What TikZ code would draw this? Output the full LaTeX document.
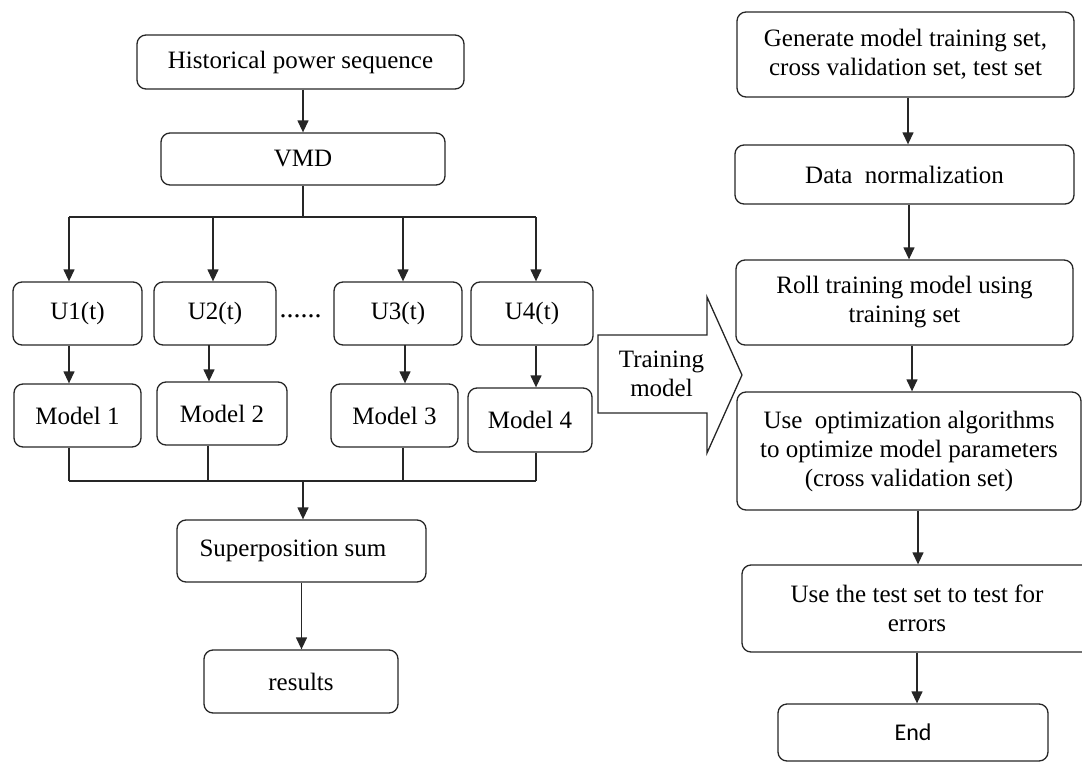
\documentclass[tikz,border=0pt]{standalone}
\usepackage{fontspec}
\setmainfont{Liberation Serif}
\newfontfamily\calfont{Carlito}
\usetikzlibrary{arrows.meta}
\begin{document}
\begin{tikzpicture}[x=1pt,y=-1pt,
  box/.style={draw=black!85, line width=1.3pt, rounded corners=9pt, inner sep=0pt,
    align=center, font=\fontsize{25}{29}\selectfont},
  arr/.style={draw=black!85, line width=1.3pt, -{Triangle[width=11pt,length=12pt]}},
  ln/.style={draw=black!85, line width=1.3pt},
  txt/.style={inner sep=0pt, align=center, font=\fontsize{25}{29}\selectfont}]
\useasboundingbox (0,0) rectangle (1082,763);
% left column
\node[box, minimum width=327pt, minimum height=54pt] (hist) at (300.5,62) {Historical power sequence};
\node[box, minimum width=284pt, minimum height=52pt] (vmd) at (303,159) {VMD};
\node[box, minimum width=129pt, minimum height=63pt] (u1) at (77.5,313.5) {U1(t)};
\node[box, minimum width=122pt, minimum height=63pt] (u2) at (215,313.5) {U2(t)};
\node[box, minimum width=128pt, minimum height=63pt] (u3) at (398,313.5) {U3(t)};
\node[box, minimum width=122pt, minimum height=63pt] (u4) at (532,313.5) {U4(t)};
\node[txt, anchor=base, font=\fontsize{28}{29}\selectfont] (dots) at (300.5,317) {......};
\node[box, minimum width=127pt, minimum height=63pt] (m1) at (77.5,415.5) {Model 1};
\node[box, minimum width=130pt, minimum height=63pt] (m2) at (222,413.5) {Model 2};
\node[box, minimum width=127pt, minimum height=63pt] (m3) at (394.5,415.5) {Model 3};
\node[box, minimum width=124pt, minimum height=64pt] (m4) at (530,420) {Model 4};
\node[box, minimum width=249pt, minimum height=62pt] (sup) at (301.5,551) {Superposition sum\hspace{17pt}};
\node[box, minimum width=194pt, minimum height=63pt] (res) at (301,681.5) {results};
% bus coordinates
\coordinate (b0) at (303,217);
\coordinate (b1) at (69,217);
\coordinate (b2) at (213,217);
\coordinate (b3) at (403,217);
\coordinate (b4) at (536,217);
\coordinate (c1) at (69,481);
\coordinate (c2) at (208,481);
\coordinate (c3) at (403,481);
\coordinate (c4) at (536,481);
\coordinate (c0) at (303,481);
\draw[arr] (vmd.north |- hist.south) -- (vmd.north);
\draw[ln] (vmd.south) -- (b0);
\draw[ln] (b1) -- (b4);
\draw[arr] (b1) -- (b1 |- u1.north);
\draw[arr] (b2) -- (b2 |- u2.north);
\draw[arr] (b3) -- (b3 |- u3.north);
\draw[arr] (b4) -- (b4 |- u4.north);
\draw[arr] (b1 |- u1.south) -- (b1 |- m1.north);
\draw[arr] (209,345) coordinate (u2b) -- (u2b |- m2.north);
\draw[arr] (405,345) coordinate (u3b) -- (u3b |- m3.north);
\draw[arr] (b4 |- u4.south) -- (b4 |- m4.north);
\draw[ln] (c1 |- m1.south) -- (c1);
\draw[ln] (c2 |- m2.south) -- (c2);
\draw[ln] (c3 |- m3.south) -- (c3);
\draw[ln] (c4 |- m4.south) -- (c4);
\draw[ln] (c1) -- (c4);
\draw[arr] (c0) -- (c0 |- sup.north);
\draw[arr] (sup.south) -- (sup.south |- res.north);
% big hollow arrow
\draw[draw=black!85, line width=1.3pt, line join=miter]
  (598,335) -- (707,335) -- (707,297) -- (742,375) -- (707,453) -- (707,413) -- (598,413) -- cycle;
\node[txt] (train) at (661.5,374) {Training\\model};
% right column
\node[box, minimum width=337pt, minimum height=85pt] (gen) at (905.5,54.5) {Generate model training set,\\cross validation set, test set};
\node[box, minimum width=339pt, minimum height=59pt] (data) at (904.5,174.5) {Data\ \ normalization};
\node[box, minimum width=337pt, minimum height=85pt] (roll) at (904.5,302.5) {Roll training model using\\training set};
\node[box, minimum width=344pt, minimum height=118pt] (use) at (909,451) {Use\ \ optimization algorithms\\to optimize model parameters\\(cross validation set)};
\node[box, minimum width=350pt, minimum height=87pt] (test) at (917,608.5) {Use the test set to test for\\errors};
\node[box, minimum width=270pt, minimum height=57pt, font=\calfont\fontsize{24}{28}\selectfont] (end) at (913,732.5) {End};
\coordinate (r1) at (908,0);
\coordinate (r2) at (909,0);
\coordinate (r3) at (912,0);
\coordinate (r4) at (918,0);
\coordinate (r5) at (917,0);
\draw[arr] (r1 |- gen.south) -- (r1 |- data.north);
\draw[arr] (r2 |- data.south) -- (r2 |- roll.north);
\draw[arr] (r3 |- roll.south) -- (r3 |- use.north);
\draw[arr] (r4 |- use.south) -- (r4 |- test.north);
\draw[arr] (r5 |- test.south) -- (r5 |- end.north);
\end{tikzpicture}
\end{document}
